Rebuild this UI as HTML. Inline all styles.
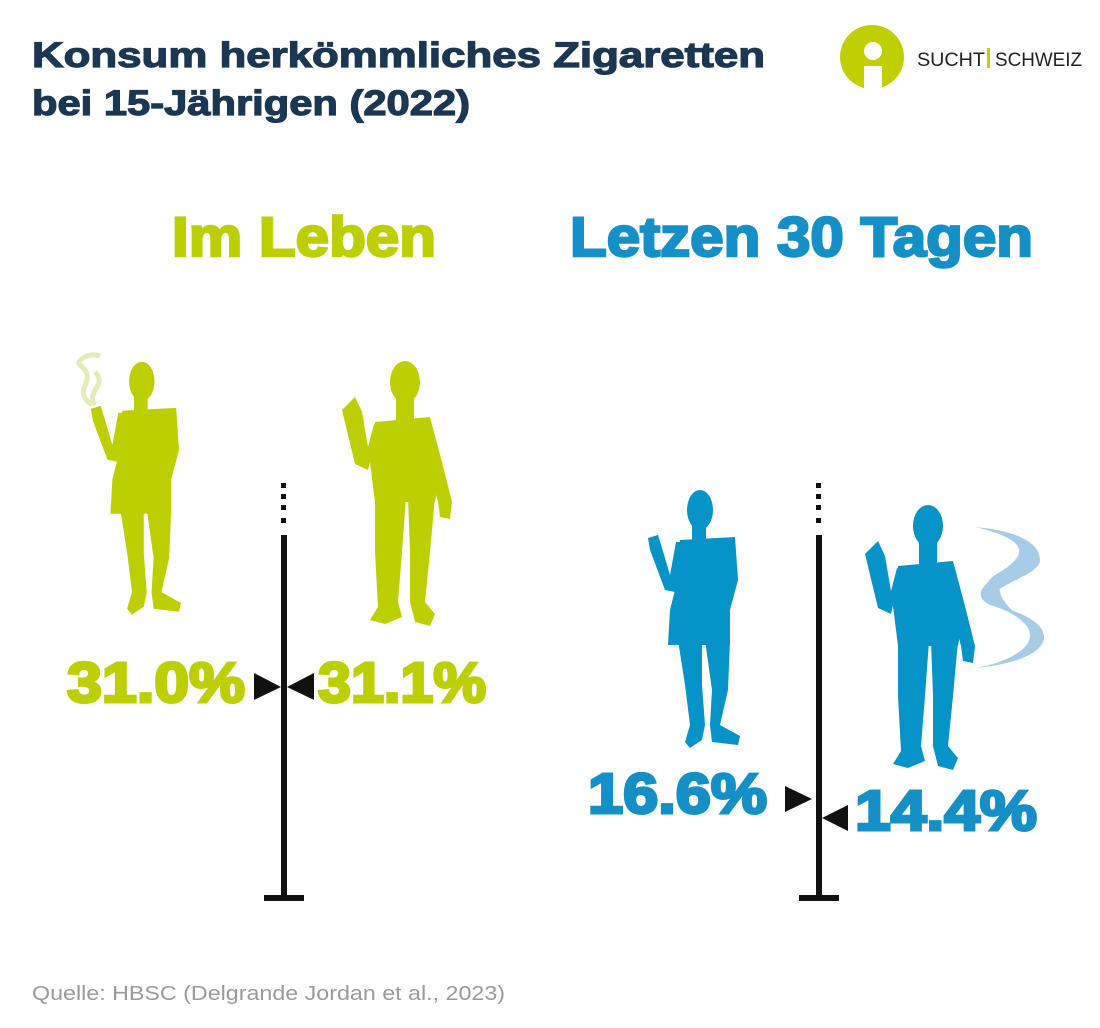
<!DOCTYPE html>
<html><head><meta charset="utf-8"><style>html,body{margin:0;padding:0;background:#fff}svg{display:block}</style></head>
<body>
<svg width="1100" height="1028" viewBox="0 0 1100 1028" xmlns="http://www.w3.org/2000/svg" font-family="Liberation Sans, sans-serif">
<defs>
<g id="woman">
<ellipse cx="60" cy="30" rx="13" ry="20"/>
<rect x="52" y="42" width="14" height="22"/>
<path d="M40,60 L95,57 L98,100 L90,130 L90,165 L28,165 L30,130 L35,110 Z"/>
<path d="M40,62 L42,80 L35,112 L25,110 L10,70 L8,58 L18,55 L22,68 L30,95 L36,62 Z"/>
<path d="M38,160 L62,160 L62,205 L65,245 L62,260 L50,268 L45,262 L50,245 L45,205 Z"/>
<path d="M65,160 L90,160 L88,210 L80,245 L100,256 L98,265 L72,262 L70,245 L72,210 Z"/>
</g>
<g id="man">
<ellipse cx="75" cy="30" rx="15" ry="21"/>
<rect x="66" y="45" width="18" height="25"/>
<path d="M45,70 L100,65 L112,110 L105,150 L45,150 L40,110 Z"/>
<path d="M45,145 L76,145 L72,200 L68,250 L72,265 L55,272 L40,268 L48,255 L45,200 Z"/>
<path d="M78,145 L105,145 L100,200 L95,250 L105,262 L100,274 L85,270 L80,250 L80,200 Z"/>
<path d="M48,75 L38,118 L25,112 L12,58 L25,45 L32,60 L38,95 L44,72 Z"/>
<path d="M100,70 L112,110 L122,150 L120,167 L110,165 L108,150 L98,112 Z"/>
</g>
</defs>

<g stroke="#1b3752" stroke-width="1.2">
<text x="32" y="67" font-size="35" font-weight="bold" fill="#1b3752" textLength="733" lengthAdjust="spacingAndGlyphs">Konsum herkömmliches Zigaretten</text>
<text x="32" y="115" font-size="35" font-weight="bold" fill="#1b3752" textLength="438" lengthAdjust="spacingAndGlyphs">bei 15-Jährigen (2022)</text>
</g>

<circle cx="872" cy="57" r="32" fill="#bfcf00"/>
<circle cx="873" cy="51" r="9" fill="#fff"/>
<rect x="864" y="66" width="18" height="24" fill="#fff"/>
<text x="917" y="66" font-size="19" fill="#222" textLength="68" lengthAdjust="spacingAndGlyphs">SUCHT</text>
<rect x="987" y="48" width="3" height="20" fill="#bfcf00"/>
<text x="995" y="66" font-size="19" fill="#222" textLength="87" lengthAdjust="spacingAndGlyphs">SCHWEIZ</text>

<text x="172" y="256" font-size="56" font-weight="bold" fill="#bccf00" stroke="#bccf00" stroke-width="2.5" textLength="264" lengthAdjust="spacingAndGlyphs">Im Leben</text>
<text x="570" y="256" font-size="56" font-weight="bold" fill="#1590c6" stroke="#1590c6" stroke-width="2.5" textLength="463" lengthAdjust="spacingAndGlyphs">Letzen 30 Tagen</text>

<g fill="none" stroke="#dfe6a8" stroke-width="5" opacity="0.8">
<path d="M92,405 C70,390 100,380 80,365 C75,360 90,352 100,356"/>
<path d="M95,405 C85,392 108,385 95,372"/>
</g>
<g fill="#5fa3d6" opacity="0.55">
<path d="M975,668 C1060,660 1060,625 1010,610 C960,590 1040,580 1040,560 C1040,540 1010,530 975,527 C1030,540 1030,555 995,575 C960,600 1040,615 1030,640 C1020,660 990,665 975,668 Z"/>
<path d="M980,668 C1050,650 1040,620 990,605 C970,595 985,580 1010,570 C985,590 1010,610 1030,625 C1045,645 1010,662 980,668 Z"/>
</g>

<g fill="#bccf00">
<use href="#woman" transform="translate(83,352) scale(0.98)"/>
<use href="#man" transform="translate(330,352) scale(1.0)"/>
</g>
<g fill="#0593c8">
<use href="#woman" transform="translate(640,480)"/>
<use href="#man" transform="translate(853,496)"/>
</g>

<g fill="#111">
<rect x="281" y="483" width="5" height="5"/><rect x="281" y="494" width="5" height="5"/><rect x="281" y="505" width="5" height="5"/><rect x="281" y="518" width="5" height="5"/>
<rect x="281" y="535" width="6" height="362"/>
<rect x="264" y="895" width="40" height="6"/>
<path d="M254,673 L281,687 L254,700 Z"/>
<path d="M314,673 L287,687 L314,700 Z"/>
<rect x="816" y="483" width="5" height="5"/><rect x="816" y="494" width="5" height="5"/><rect x="816" y="505" width="5" height="5"/><rect x="816" y="518" width="5" height="5"/>
<rect x="816" y="535" width="6" height="362"/>
<rect x="799" y="895" width="40" height="6"/>
<path d="M785,786 L812,799 L785,812 Z"/>
<path d="M848,805 L822,818 L848,831 Z"/>
</g>

<g stroke-width="3">
<text x="67" y="702" font-size="57" font-weight="bold" fill="#bccf00" stroke="#bccf00" textLength="178" lengthAdjust="spacingAndGlyphs">31.0%</text>
<text x="318" y="702" font-size="57" font-weight="bold" fill="#bccf00" stroke="#bccf00" textLength="168" lengthAdjust="spacingAndGlyphs">31.1%</text>
<text x="588" y="813" font-size="57" font-weight="bold" fill="#1590c6" stroke="#1590c6" textLength="179" lengthAdjust="spacingAndGlyphs">16.6%</text>
<text x="855" y="830" font-size="57" font-weight="bold" fill="#1590c6" stroke="#1590c6" textLength="182" lengthAdjust="spacingAndGlyphs">14.4%</text>
</g>

<text x="32" y="1000" font-size="20" fill="#9a9a9a" textLength="473" lengthAdjust="spacingAndGlyphs">Quelle: HBSC (Delgrande Jordan et al., 2023)</text>
</svg>
</body></html>
